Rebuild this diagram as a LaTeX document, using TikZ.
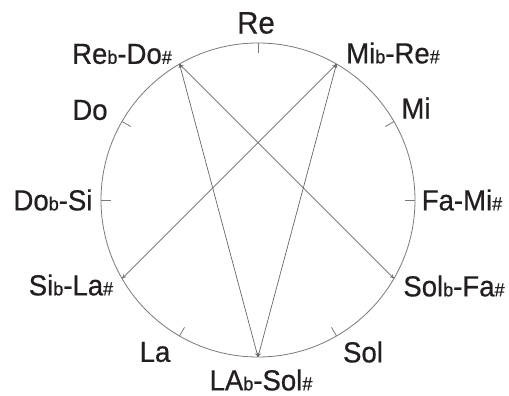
\documentclass[tikz,border=0pt]{standalone}
\usepackage{fontspec}
\setmainfont{Liberation Sans}[FakeStretch=0.95, FakeBold=0.6]
\usetikzlibrary{arrows.meta}
\definecolor{ring-gray}{HTML}{7A7A7A}
\definecolor{chord-gray}{HTML}{666666}
\definecolor{ink}{HTML}{231F20}
\newcommand{\notesize}{\fontsize{29}{31}\selectfont}
\newcommand{\acc}[1]{{\fontsize{19}{20}\selectfont #1}}
\tikzset{
  note/.style={font=\notesize, text=ink, inner sep=0pt},
  chord/.style={draw=chord-gray, line width=0.7pt,
    {To[length=4pt,width=4pt]}-{To[length=4pt,width=4pt]}},
}

\begin{document}
\begin{tikzpicture}[x=1pt, y=1pt]
    \useasboundingbox (-258,-196) rectangle (251,200);
    \def\R{157}
    \draw[ring-gray, line width=0.8pt] (0,0) circle (\R);
    % ticks on the plain notes
    \foreach \a in {0,30,90,150,180,240,300}
      \draw[ring-gray, line width=0.8pt] (\a:\R) -- (\a:\R-10);
    % points on the circle
    \coordinate (reb) at (120:\R);
    \coordinate (mib) at (60:\R);
    \coordinate (solb) at (-30:\R);
    \coordinate (lab) at (-90:\R);
    \coordinate (sib) at (-150:\R);
    % labels
    \node[note, font=\fontsize{31}{33}\selectfont] (re) at (-2,177) {Re};
    \node[note] (redo)  at (-136,146) {Re\acc{b}-Do\acc{\#}};
    \node[note] (mire)  at (135,147)  {Mi\acc{b}-Re\acc{\#}};
    \node[note] (mi)    at (158,92)   {Mi};
    \node[note] (fami)  at (204,0)    {Fa-Mi\acc{\#}};
    \node[note] (solfa) at (196,-86)  {Sol\acc{b}-Fa\acc{\#}};
    \node[note] (sol)   at (105,-152) {Sol};
    \node[note] (lasol) at (3,-180)   {LA\acc{b}-Sol\acc{\#}};
    \node[note] (la)    at (-103,-152) {La};
    \node[note] (sila)  at (-187,-85) {Si\acc{b}-La\acc{\#}};
    \node[note] (dosi)  at (-205,0)   {Do\acc{b}-Si};
    \node[note] (do)    at (-168,90)  {Do};
    % chords
    \draw[chord] (reb) -- (lab);
    \draw[chord] (reb) -- (solb);
    \draw[chord] (mib) -- (lab);
    \draw[chord] (mib) -- (sib);
\end{tikzpicture}
\end{document}
